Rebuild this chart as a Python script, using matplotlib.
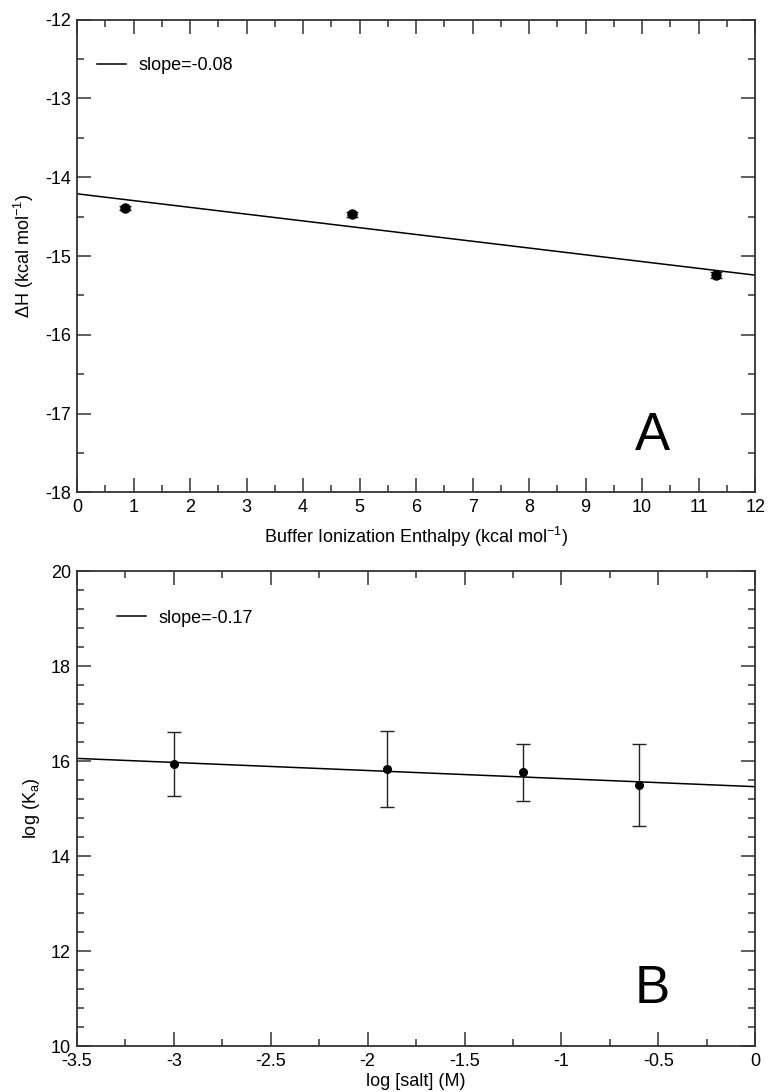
import matplotlib.pyplot as plt
from matplotlib.ticker import MultipleLocator, FormatStrFormatter

plt.rcParams['font.family'] = ['Liberation Sans', 'DejaVu Sans']
plt.rcParams['axes.unicode_minus'] = False
plt.rcParams['mathtext.default'] = 'regular'

# panel A: buffer ionization enthalpy vs dH
ion_x = [0.85, 4.87, 11.3]
dh_y = [-14.39, -14.47, -15.24]
dh_err = [0.03, 0.03, 0.04]
fitA_x = [0, 12]
fitA_slope = -0.086
fitA_icpt = -14.21

# panel B: log salt vs log Ka
salt_x = [-3.0, -1.9, -1.2, -0.6]
ka_y = [15.94, 15.83, 15.76, 15.49]
ka_err = [0.67, 0.8, 0.6, 0.86]
fitB_x = [-3.5, 0]
fitB_slope = -0.17
fitB_icpt = 15.46

#通用的坐标轴样式
def style_axes(ax, xmaj, xmin, ymaj, ymin):
    ax.xaxis.set_major_locator(MultipleLocator(xmaj))
    ax.xaxis.set_minor_locator(MultipleLocator(xmin))
    ax.yaxis.set_major_locator(MultipleLocator(ymaj))
    ax.yaxis.set_minor_locator(MultipleLocator(ymin))
    ax.xaxis.set_major_formatter(FormatStrFormatter('%g'))
    ax.yaxis.set_major_formatter(FormatStrFormatter('%g'))
    ax.tick_params(which='both', direction='in', top=True, right=True,
                   labelsize=13, width=1.1, color='#333333')
    ax.tick_params(which='major', length=10)
    ax.tick_params(which='minor', length=5)
    ax.tick_params(axis='x', pad=5)
    ax.tick_params(axis='y', pad=4.5)
    for s in ax.spines.values():
        s.set_linewidth(1.3)
        s.set_color('#333333')


fig = plt.figure(figsize=(7.68, 10.92), dpi=100, facecolor='white')

axA = fig.add_axes([0.1003, 0.549, 0.883, 0.433])
axA.plot(fitA_x, [fitA_icpt + fitA_slope * x for x in fitA_x], color='black', lw=1.1,
         label='slope=-0.08')
axA.errorbar(ion_x, dh_y, yerr=dh_err, fmt='o', color='black', ms=6.5,
             ecolor='#222222', elinewidth=1.0, capsize=4, capthick=1.0)
axA.set_xlim(0, 12)
axA.set_ylim(-18, -12)
style_axes(axA, 1, 0.5, 1, 0.5)
axA.set_xlabel('Buffer Ionization Enthalpy (kcal mol$^{-1}$)', fontsize=13, labelpad=6)
axA.set_ylabel('ΔH (kcal mol$^{-1}$)', fontsize=13, labelpad=6)
axA.legend(loc='upper left', frameon=False, fontsize=13, handlelength=1.6,
           handletextpad=0.7, bbox_to_anchor=(0.006, 0.955))
axA.text(0.848, 0.12, 'A', transform=axA.transAxes, fontsize=38,
         ha='center', va='center')

axB = fig.add_axes([0.1003, 0.0421, 0.883, 0.435])
axB.plot(fitB_x, [fitB_icpt + fitB_slope * x for x in fitB_x], color='black', lw=1.1,
         label='slope=-0.17')
axB.errorbar(salt_x, ka_y, yerr=ka_err, fmt='o', color='black', ms=5.5,
             ecolor='#222222', elinewidth=1.0, capsize=5, capthick=1.0)
axB.set_xlim(-3.5, 0)
axB.set_ylim(10, 20)
style_axes(axB, 0.5, 0.25, 2, 0.4)
axB.set_xlabel('log [salt] (M)', fontsize=13, labelpad=2.5)
axB.set_ylabel('log (K$_{a}$)', fontsize=13, labelpad=6)
axB.legend(loc='upper left', frameon=False, fontsize=13, handlelength=1.6,
           handletextpad=0.7, bbox_to_anchor=(0.035, 0.953))
axB.text(0.848, 0.12, 'B', transform=axB.transAxes, fontsize=38,
         ha='center', va='center')

plt.savefig('out.png', dpi=100)
